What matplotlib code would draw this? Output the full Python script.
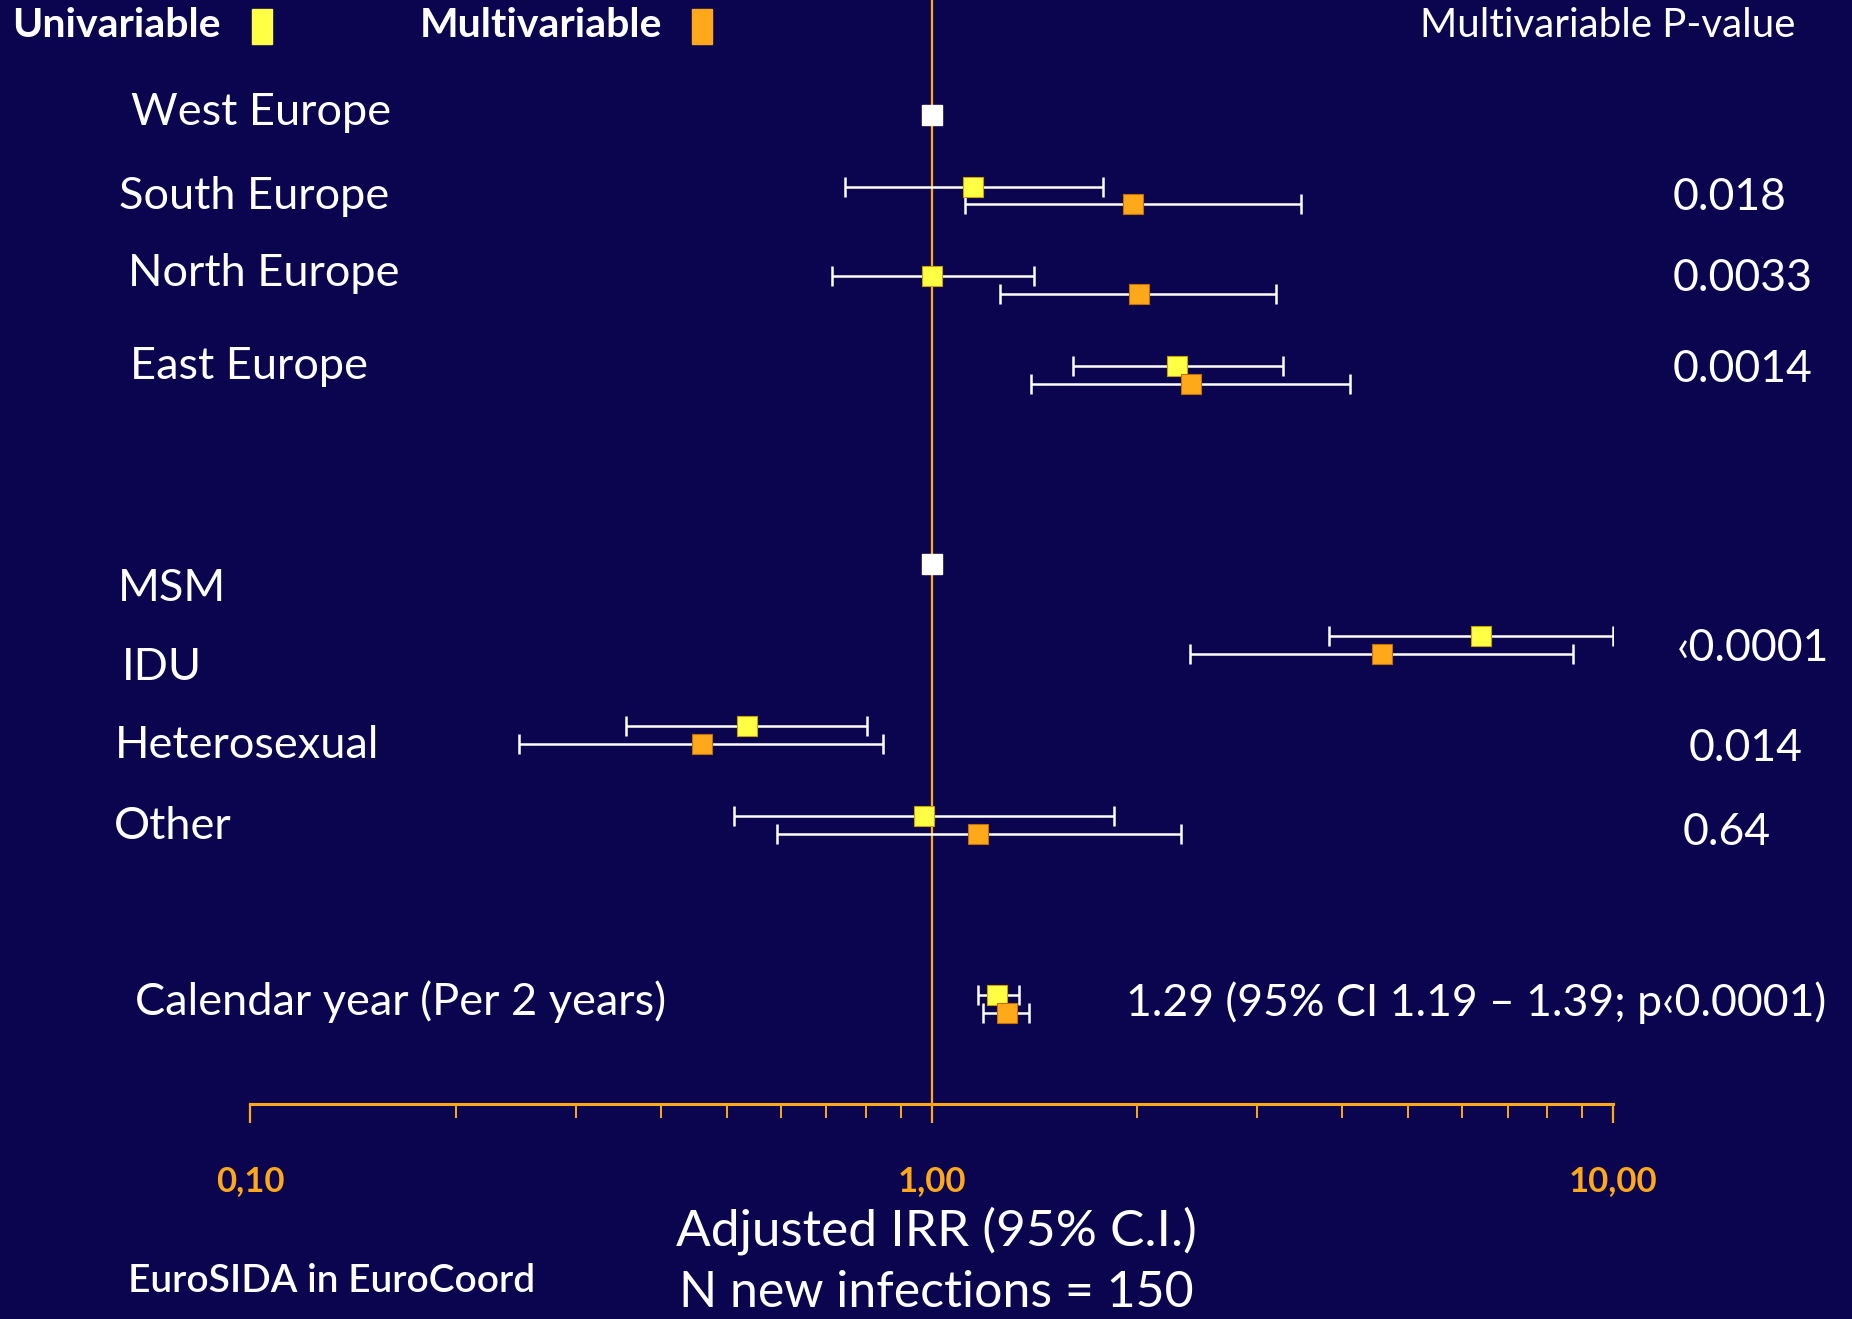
import numpy as np
import matplotlib.pyplot as plt
from matplotlib.patches import Rectangle
from matplotlib.ticker import FixedLocator, NullFormatter

plt.rcParams['font.family'] = ['Lato', 'DejaVu Sans']

BG = '#0b0550'
YELLOW = '#ffff44'
ORANGE = '#ffa91a'

# --- data: incidence rate ratios with 95% CI ---
rows = ["West Europe", "South Europe", "North Europe", "East Europe",
        "MSM", "IDU", "Heterosexual", "Other", "Calendar year (Per 2 years)"]
ref_rows = ["West Europe", "MSM"]

uni_irr = [1.15, 1.00, 2.29, 6.40, 0.535, 0.973, 1.245]
uni_lo = [0.745, 0.713, 1.61, 3.83, 0.356, 0.512, 1.17]
uni_hi = [1.78, 1.41, 3.28, 10.0, 0.803, 1.85, 1.34]

multi_irr = [1.97, 2.01, 2.40, 4.58, 0.460, 1.17, 1.29]
multi_lo = [1.118, 1.26, 1.40, 2.39, 0.248, 0.593, 1.19]
multi_hi = [3.48, 3.20, 4.11, 8.73, 0.849, 2.32, 1.39]

p_values = ["0.018", "0.0033", "0.0014", "\u20390.0001", "0.014", "0.64"]
calendar_note = "1.29 (95% CI 1.19 \u2013 1.39; p\u20390.0001)"

# --- layout (vertical positions, top = 0) ---
ref_y = [97, 478]
est_y = [158, 234, 310, 539, 615, 691, 843]
offset = 15
label_pos = [(111, 95), (101, 166), (108, 232), (110, 310), (100, 498),
             (103, 565), (97, 631), (96, 700), (114, 848)]
p_pos = [(1416, 167), (1416, 236), (1416, 313), (1420, 549), (1430, 634), (1425, 705)]
W, H = 1568, 1117

fig = plt.figure(figsize=(18.52, 13.19), dpi=100, facecolor=BG)
ax = fig.add_axes([212 / W, 1 - 935 / H, (1366 - 212) / W, 935 / H])
ax.set_facecolor(BG)
ax.set_xscale('log')
ax.set_xlim(0.1, 10)
ax.set_ylim(935, 0)

ax.axvline(1.0, color=ORANGE, lw=1.6, zorder=1)

uni_y = np.array(est_y)
multi_y = uni_y + offset

for irr, lo, hi, y, col, edge in [(uni_irr, uni_lo, uni_hi, uni_y, YELLOW, '#c8a000'),
                                  (multi_irr, multi_lo, multi_hi, multi_y, ORANGE, '#c07000')]:
    irr = np.array(irr)
    err = [irr - np.array(lo), np.array(hi) - irr]
    ax.errorbar(irr, y, xerr=err, fmt='none', ecolor='white', elinewidth=1.8,
                capsize=7, capthick=1.8, zorder=2)
    ax.plot(irr, y, 's', ms=15, color=col, mec=edge, mew=0.8, zorder=3)

ax.plot([1.0] * len(ref_y), ref_y, 's', ms=14, color='white', zorder=3)

# axis styling
for s in ['top', 'left', 'right']:
    ax.spines[s].set_visible(False)
ax.spines['bottom'].set_color(ORANGE)
ax.spines['bottom'].set_linewidth(2.2)
ax.set_yticks([])
ax.xaxis.set_major_locator(FixedLocator([0.1, 1, 10]))
ax.xaxis.set_minor_locator(FixedLocator(
    [m * d for d in (0.1, 1) for m in range(2, 10)]))
ax.xaxis.set_minor_formatter(NullFormatter())
ax.set_xticklabels(["0,10", "1,00", "10,00"])
ax.tick_params(axis='x', which='major', colors=ORANGE, length=14, width=1.6,
               labelsize=25, pad=30)
ax.tick_params(axis='x', which='minor', colors=ORANGE, length=10, width=1.4)
for t in ax.get_xticklabels():
    t.set_fontweight('bold')


def fx(px):
    return px / W


def fy(py):
    return 1 - py / H


# row labels and p-values
for name, (x, y) in zip(rows, label_pos):
    fig.text(fx(x), fy(y), name, color='white', fontsize=32.5, ha='left', va='center')
for p, (x, y) in zip(p_values, p_pos):
    fig.text(fx(x), fy(y), p, color='white', fontsize=32, ha='left', va='center')
fig.text(fx(953), fy(849), calendar_note, color='white', fontsize=32,
         ha='left', va='center')

# header legend
fig.text(fx(10), fy(22), "Univariable", color='white', fontsize=29.5,
         fontweight='bold', ha='left', va='center')
fig.text(fx(355), fy(22), "Multivariable", color='white', fontsize=29.5,
         fontweight='bold', ha='left', va='center')
fig.patches.append(Rectangle((fx(213), fy(37)), 17 / W, 29 / H, color=YELLOW,
                             transform=fig.transFigure, figure=fig))
fig.patches.append(Rectangle((fx(586), fy(37)), 17 / W, 29 / H, color=ORANGE,
                             transform=fig.transFigure, figure=fig))
fig.text(fx(1520), fy(22), "Multivariable P-value", color='white', fontsize=29,
         ha='right', va='center')

# bottom titles
fig.text(fx(793), fy(1042), "Adjusted IRR (95% C.I.)", color='white', fontsize=37,
         ha='center', va='center')
fig.text(fx(793), fy(1095), "N new infections = 150", color='white', fontsize=36,
         ha='center', va='center')
fig.text(fx(108), fy(1085), "EuroSIDA in EuroCoord", color='white', fontsize=28,
         fontweight='semibold', ha='left', va='center')

fig.savefig('out.png', dpi=100, facecolor=BG)
